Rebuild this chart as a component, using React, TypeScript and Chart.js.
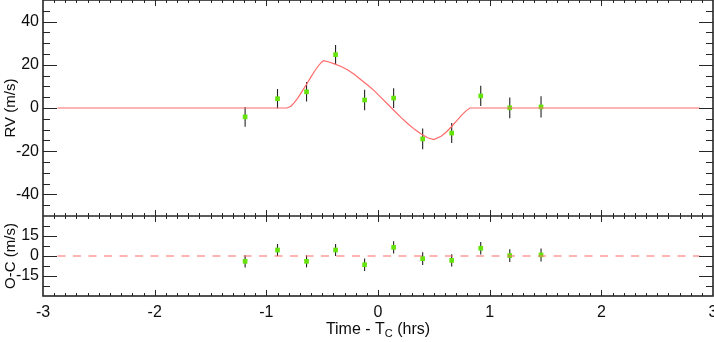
import React, { useEffect, useRef } from "react";
import { Chart, registerables } from "chart.js";

Chart.register(...registerables);

// ---- data ----
const TIMES = [-1.19, -0.9, -0.64, -0.38, -0.12, 0.14, 0.4, 0.66, 0.92, 1.18, 1.46];
const RV = [-4.1, 4.3, 7.5, 24.7, 3.7, 4.6, -14.3, -11.6, 5.6, 0.1, 0.5];
const RV_ERR = [4.6, 4.5, 4.5, 4.5, 4.7, 4.6, 4.8, 4.6, 4.7, 4.8, 4.9];
const OC = [-4.0, 4.5, -4.0, 4.5, -6.5, 6.5, -2.0, -3.3, 5.8, 0.3, 0.8];
const OC_ERR = [4.6, 4.5, 4.5, 4.5, 4.7, 4.6, 4.8, 4.6, 4.7, 4.8, 4.9];

const MODEL_T = [
  -2.87, -0.815, -0.78, -0.75, -0.72, -0.69, -0.66, -0.63, -0.6, -0.57, -0.54, -0.51, -0.487,
  -0.44, -0.39, -0.33, -0.27, -0.21, -0.15, -0.09, -0.03, 0.03, 0.09, 0.15, 0.21, 0.27, 0.33,
  0.39, 0.445, 0.5, 0.565, 0.61, 0.655, 0.7, 0.745, 0.79, 0.824, 2.88,
];
const MODEL_RV = [
  0, 0, 0.8, 2.5, 4.5, 6.9, 9.3, 11.8, 14.4, 16.9, 19.1, 21.0, 21.9,
  21.3, 20.4, 19.2, 17.6, 15.5, 13.0, 10.5, 7.8, 4.7, 1.6, -1.5, -4.6, -7.4, -10.0,
  -12.2, -13.8, -14.6, -13.1, -11.2, -8.8, -6.2, -3.5, -1.2, 0, 0,
];
const ZERO_T = [-2.87, 2.88];
const ZERO_V = [0, 0];

const X_TICKS = [-3, -2, -1, 0, 1, 2, 3];
const RV_TICKS = [-40, -20, 0, 20, 40];
const OC_TICKS = [-15, 0, 15];

const X_MIN = -3, X_MAX = 3;
const RV_MIN = -50, RV_MAX = 50;
const OC_MIN = -30, OC_MAX = 30;

const GREEN = "#64e40a";
const RED = "#ff6a6a";
const AXIS = "#262626";
const FONT = '"Liberation Sans", Arial, sans-serif';

const toXY = (xs: number[], ys: number[]) => xs.map((x, i) => ({ x, y: ys[i] }));

const panelPlugin = {
  id: "panelPlugin",
  beforeDatasetsDraw(chart: any) {
    const { ctx } = chart;
    const xs = chart.scales.x;
    ctx.save();
    ctx.strokeStyle = "#222";
    ctx.lineWidth = 1.1;
    const sets: [string, number[], number[]][] = [
      ["yRV", RV, RV_ERR],
      ["yOC", OC, OC_ERR],
    ];
    for (const [id, vals, errs] of sets) {
      const ys = chart.scales[id];
      TIMES.forEach((t, i) => {
        const px = xs.getPixelForValue(t);
        ctx.beginPath();
        ctx.moveTo(px, ys.getPixelForValue(vals[i] - errs[i]));
        ctx.lineTo(px, ys.getPixelForValue(vals[i] + errs[i]));
        ctx.stroke();
      });
    }
    ctx.restore();
  },
  afterDraw(chart: any) {
    const { ctx, chartArea } = chart;
    const { left, right } = chartArea;
    const xs = chart.scales.x;
    const yR = chart.scales.yRV;
    const yO = chart.scales.yOC;
    ctx.save();
    ctx.strokeStyle = AXIS;
    ctx.lineWidth = 1;

    // y ticks (both sides, inward)
    const yTicks = (scale: any, min: number, max: number, step: number, majors: number[]) => {
      const n = Math.round((max - min) / step);
      for (let k = 1; k < n; k++) {
        const v = min + k * step;
        const major = majors.some((m) => Math.abs(m - v) < 1e-6);
        const len = major ? 14 : 7;
        const py = Math.round(scale.getPixelForValue(v)) + 0.5;
        ctx.beginPath();
        ctx.moveTo(left, py);
        ctx.lineTo(left + len, py);
        ctx.moveTo(right, py);
        ctx.lineTo(right - len, py);
        ctx.stroke();
      }
    };
    yTicks(yR, RV_MIN, RV_MAX, 5, RV_TICKS);
    yTicks(yO, OC_MIN, OC_MAX, 7.5, OC_TICKS);

    // x ticks on all four horizontal edges
    const n = Math.round((X_MAX - X_MIN) / 0.1);
    for (let k = 1; k < n; k++) {
      const v = X_MIN + k * 0.1;
      const major = X_TICKS.some((m) => Math.abs(m - v) < 1e-6);
      const len = major ? 6 : 3;
      const px = Math.round(xs.getPixelForValue(v)) + 0.5;
      ctx.beginPath();
      ctx.moveTo(px, yR.top);
      ctx.lineTo(px, yR.top + len);
      ctx.moveTo(px, yR.bottom);
      ctx.lineTo(px, yR.bottom - len);
      ctx.moveTo(px, yO.top);
      ctx.lineTo(px, yO.top + len);
      ctx.moveTo(px, yO.bottom);
      ctx.lineTo(px, yO.bottom - len);
      ctx.stroke();
    }

    // frame
    ctx.lineWidth = 1.6;
    ctx.strokeRect(left, yR.top, right - left, yO.bottom - yR.top);
    ctx.beginPath();
    ctx.moveTo(left, yR.bottom);
    ctx.lineTo(right, yR.bottom);
    ctx.stroke();

    // x-axis title with subscript
    const cx = (left + right) / 2;
    const baseY = 334;
    const big = `16px ${FONT}`;
    const small = `11px ${FONT}`;
    const p1 = "Time - T";
    const p2 = "C";
    const p3 = " (hrs)";
    ctx.font = big;
    const w1 = ctx.measureText(p1).width;
    const w3 = ctx.measureText(p3).width;
    ctx.font = small;
    const w2 = ctx.measureText(p2).width;
    let x0 = cx - (w1 + w2 + w3) / 2;
    ctx.fillStyle = "#0d0d0d";
    ctx.textBaseline = "alphabetic";
    ctx.textAlign = "left";
    ctx.font = big;
    ctx.fillText(p1, x0, baseY);
    x0 += w1;
    ctx.font = small;
    ctx.fillText(p2, x0, baseY + 3);
    x0 += w2;
    ctx.font = big;
    ctx.fillText(p3, x0, baseY);
    ctx.restore();
  },
};

export default function App() {
  const ref = useRef<HTMLCanvasElement | null>(null);

  useEffect(() => {
    if (!ref.current) return;
    const tickFont = { family: FONT, size: 16 };
    const chart = new Chart(ref.current, {
      type: "line",
      data: {
        datasets: [
          {
            data: toXY(MODEL_T, MODEL_RV),
            yAxisID: "yRV",
            borderColor: RED,
            borderWidth: 1.2,
            pointRadius: 0,
            tension: 0,
            fill: false,
          },
          {
            data: toXY(TIMES, RV),
            yAxisID: "yRV",
            showLine: false,
            pointStyle: "rect",
            pointRadius: 3.3,
            pointBackgroundColor: GREEN,
            pointBorderWidth: 0,
            pointBorderColor: GREEN,
          },
          {
            data: toXY(ZERO_T, ZERO_V),
            yAxisID: "yOC",
            borderColor: RED,
            borderWidth: 1.2,
            borderDash: [8, 7.5],
            pointRadius: 0,
            fill: false,
          },
          {
            data: toXY(TIMES, OC),
            yAxisID: "yOC",
            showLine: false,
            pointStyle: "rect",
            pointRadius: 3.3,
            pointBackgroundColor: GREEN,
            pointBorderWidth: 0,
            pointBorderColor: GREEN,
          },
        ],
      } as any,
      options: {
        animation: false,
        responsive: false,
        devicePixelRatio: 1,
        parsing: false as any,
        normalized: true,
        layout: { autoPadding: false, padding: { top: 0, right: 1, bottom: 0, left: 0 } },
        plugins: { legend: { display: false }, tooltip: { enabled: false } },
        events: [],
        scales: {
          x: {
            type: "linear",
            position: "bottom",
            min: X_MIN,
            max: X_MAX,
            grid: { display: false, drawTicks: false },
            border: { display: false },
            ticks: {
              font: tickFont,
              color: "#0d0d0d",
              padding: 7,
              maxRotation: 0,
              callback: (v: any) => String(v),
            },
            afterBuildTicks: (s: any) => {
              s.ticks = X_TICKS.map((value) => ({ value }));
            },
            afterFit: (s: any) => {
              s.height = 46;
              s.paddingLeft = 0;
              s.paddingRight = 0;
            },
          },
          yOC: {
            type: "linear",
            position: "left",
            stack: "panels",
            stackWeight: 80,
            weight: 0,
            min: OC_MIN,
            max: OC_MAX,
            grid: { display: false, drawTicks: false },
            border: { display: false },
            ticks: { font: tickFont, color: "#0d0d0d", padding: 4, callback: (v: any) => String(v) },
            afterBuildTicks: (s: any) => {
              s.ticks = OC_TICKS.map((value) => ({ value }));
            },
            afterFit: (s: any) => {
              s.width = 43;
              s.paddingTop = 0;
              s.paddingBottom = 0;
            },
            title: {
              display: true,
              text: "O-C (m/s)",
              font: { family: FONT, size: 15 },
              color: "#0d0d0d",
              padding: { top: 1.5, bottom: 0 },
            },
          },
          yRV: {
            type: "linear",
            position: "left",
            stack: "panels",
            stackWeight: 216,
            weight: 1,
            min: RV_MIN,
            max: RV_MAX,
            grid: { display: false, drawTicks: false },
            border: { display: false },
            ticks: { font: tickFont, color: "#0d0d0d", padding: 4, callback: (v: any) => String(v) },
            afterBuildTicks: (s: any) => {
              s.ticks = RV_TICKS.map((value) => ({ value }));
            },
            afterFit: (s: any) => {
              s.width = 43;
              s.paddingTop = 0;
              s.paddingBottom = 0;
            },
            title: {
              display: true,
              text: "RV (m/s)",
              font: { family: FONT, size: 15 },
              color: "#0d0d0d",
              padding: { top: 1.5, bottom: 0 },
            },
          },
        },
      } as any,
      plugins: [panelPlugin],
    });
    return () => chart.destroy();
  }, []);

  return (
    <div
      style={{
        position: "absolute",
        left: 0,
        top: 0,
        width: 714,
        height: 342,
        overflow: "hidden",
        background: "#fff",
      }}
    >
      <canvas ref={ref} width={714} height={342} style={{ display: "block" }} />
    </div>
  );
}
